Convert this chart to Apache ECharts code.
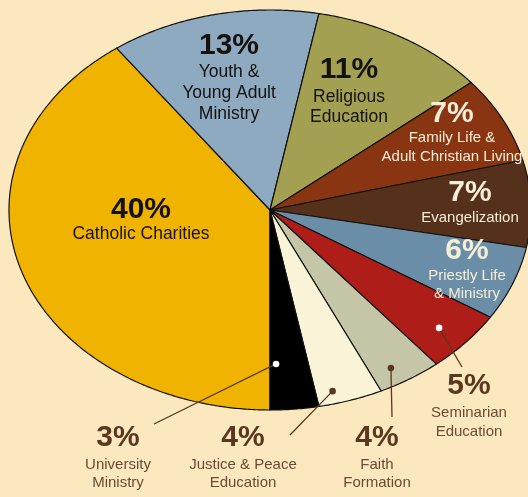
<!DOCTYPE html>
<html><head><meta charset="utf-8">
<script src="https://cdn.jsdelivr.net/npm/echarts@6/dist/echarts.min.js"></script>
<style>html,body{margin:0;padding:0;background:#fbe8bf;}#c{width:528px;height:497px;}</style>
</head><body><div id="c"></div>
<script>
// ---- data ----
const categories = ['Catholic Charities','Youth &\nYoung Adult\nMinistry','Religious\nEducation','Family Life &\nAdult Christian Living','Evangelization','Priestly Life\n& Ministry','Seminarian\nEducation','Faith\nFormation','Justice & Peace\nEducation','University\nMinistry'];
const values = [40,13,11,7,7,6,5,4,4,3];
const colors = ['#f0b400','#8eaac0','#a3a151','#8a3512','#55301a','#6b8ea8','#af1d18','#c5c6a7','#f9f4d8','#000000'];

// ---- layout (not data) ----
const CX = 270, CY = 210, RX = 261, RY = 200;
// [x, pctCenterY, nameFirstLineCenterY, lineHeight, nameSize, pctColor, nameColor]
const labelLayout = [
  [141, 210, 234.6, 21, 17.5, '#15120e', '#15120e'],
  [229, 46, 71.7, 21, 17.5, '#15120e', '#15120e'],
  [349, 70, 96.7, 20.5, 17.5, '#15120e', '#15120e'],
  [452, 114, 137.6, 19, 15, '#f7eed6', '#f7eed6'],
  [470, 193, 217.6, 19, 15, '#f7eed6', '#f7eed6'],
  [467, 250.5, 275.6, 18, 15, '#f7eed6', '#f7eed6'],
  [469, 386, 412.6, 19, 15, '#5a3820', '#6b4b33'],
  [377, 437.5, 464.6, 18.5, 15, '#5a3820', '#6b4b33'],
  [243, 437.5, 464.6, 18.5, 15, '#5a3820', '#6b4b33'],
  [118, 437.5, 464.6, 18.5, 15, '#5a3820', '#6b4b33']
];
// leader: [fraction within slice angle, radius fraction, endX, endY, dotColor]
const leaders = {
  6: [0.55, 0.876, 462, 367, '#ffffff'],
  7: [0.64, 0.916, 392, 417, '#5a3820'],
  8: [0.72, 0.937, 290, 435, '#5a3820'],
  9: [0.84, 0.77, 154, 424, '#ffffff']
};

const total = values.reduce((a,b)=>a+b,0);
const cum = []; values.reduce((acc,v,i)=>{cum[i]=acc;return acc+v;},0);
function angles(i, v){
  const a0 = Math.PI/2 + cum[i]/total*2*Math.PI;
  return [a0, a0 + v/total*2*Math.PI];
}
const font = "'Liberation Sans', Arial, sans-serif";

const graphics = [];
values.forEach((v,i)=>{
  const L = labelLayout[i];
  const lines = categories[i].split('\n').length;
  graphics.push({type:'text', z:100, x:L[0], y:L[1], style:{text: v+'%', fontFamily:font, fontWeight:'bold', fontSize:30, fill:L[5], align:'center', verticalAlign:'middle'}});
  graphics.push({type:'text', z:100, x:L[0], y:L[2]+(lines-1)*L[3]/2, style:{text: categories[i], fontFamily:font, fontSize:L[4], lineHeight:L[3], fill:L[6], align:'center', verticalAlign:'middle'}});
});

const chart = echarts.init(document.getElementById('c'), null, {renderer:'canvas'});
chart.setOption({
  backgroundColor:'#fbe8bf',
  animation:false,
  graphic: graphics,
  series:[{
    type:'custom', coordinateSystem:'none', z:1,
    data: values.map((v,i)=>({name:categories[i], value:[v]})),
    renderItem:(params, api)=>{
      const i = params.dataIndex;
      const [a0,a1] = angles(i, api.value(0));
      const pts = [[CX,CY]];
      const n = Math.max(4, Math.ceil((a1-a0)/(Math.PI/360)));
      for(let k=0;k<=n;k++){const a=a0+(a1-a0)*k/n; pts.push([CX+RX*Math.cos(a), CY+RY*Math.sin(a)]);}
      return {type:'polygon', shape:{points:pts}, style:{fill:colors[i], stroke:'#111', lineWidth:1.2, lineJoin:'round'}};
    }
  },{
    type:'custom', coordinateSystem:'none', z:5,
    data: values.map((v,i)=>({name:categories[i], value:[v]})),
    renderItem:(params, api)=>{
      const i = params.dataIndex;
      const ld = leaders[i];
      if(!ld) return {type:'group', children:[]};
      const [a0,a1] = angles(i, api.value(0));
      const a = a0 + (a1-a0)*ld[0];
      const px = CX + RX*ld[1]*Math.cos(a), py = CY + RY*ld[1]*Math.sin(a);
      return {type:'group', children:[
        {type:'line', shape:{x1:px,y1:py,x2:ld[2],y2:ld[3]}, style:{stroke:'#5a3820', lineWidth:1.3}},
        {type:'circle', shape:{cx:px,cy:py,r:3.3}, style:{fill:ld[4]}}
      ]};
    }
  }]
});
</script></body></html>
